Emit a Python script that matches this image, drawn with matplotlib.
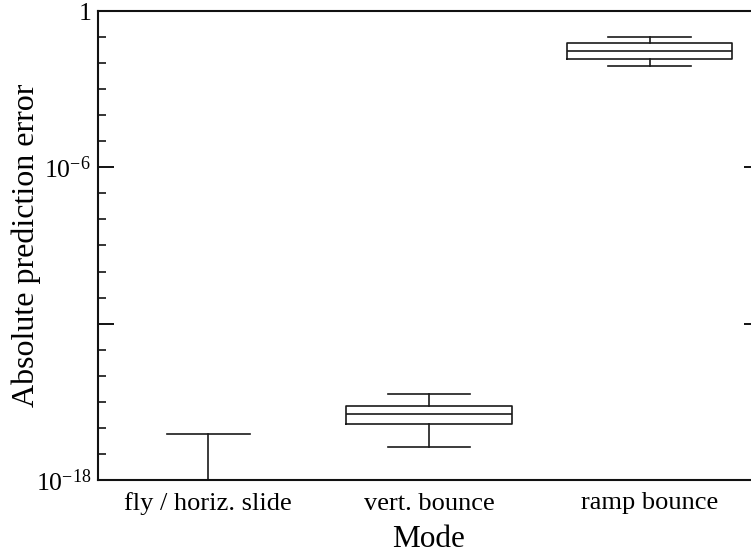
import matplotlib
matplotlib.use("Agg")
import matplotlib.pyplot as plt
from matplotlib.ticker import FixedLocator, FixedFormatter, LogLocator, NullFormatter

plt.rcParams["font.family"] = ["Liberation Serif", "DejaVu Serif"]
plt.rcParams["mathtext.fontset"] = "custom"
plt.rcParams["mathtext.rm"] = "Liberation Serif"
plt.rcParams["mathtext.it"] = "Liberation Serif:italic"

# Box statistics per mode (absolute prediction error)
modes = ["fly / horiz. slide", "vert. bounce", "ramp bounce"]
whisker_low = [1e-20, 10 ** -16.72, 10 ** -2.10]
quartile_1 = [1e-20, 10 ** -15.84, 10 ** -1.83]
medians = [1e-20, 10 ** -15.47, 10 ** -1.55]
quartile_3 = [1e-20, 10 ** -15.16, 10 ** -1.24]
whisker_high = [10 ** -16.23, 10 ** -14.69, 10 ** -1.00]

ytick_values = [1e0, 1e-6, 1e-12, 1e-18]
ytick_labels = ["1", r"$10^{-6}$", "", r"$10^{-18}$"]

stats = [
    dict(label=m, whislo=lo, q1=a, med=md, q3=b, whishi=hi, fliers=[])
    for m, lo, a, md, b, hi in zip(modes, whisker_low, quartile_1, medians,
                                   quartile_3, whisker_high)
]

fig = plt.figure(figsize=(7.51, 5.56), dpi=100)
ax = fig.add_axes([98 / 751, 1 - 480 / 556, (760 - 98) / 751, (480 - 11) / 556])

line_col = "#1a1a1a"
ax.bxp(
    stats,
    positions=[1, 2, 3],
    widths=0.75,
    showfliers=False,
    boxprops=dict(color=line_col, linewidth=1.2),
    medianprops=dict(color=line_col, linewidth=1.2),
    whiskerprops=dict(color=line_col, linewidth=1.2),
    capprops=dict(color=line_col, linewidth=1.2),
)

ax.set_yscale("log")
ax.set_ylim(1e-18, 1)
ax.set_xlim(0.5, 3.5)

ax.yaxis.set_major_locator(FixedLocator(ytick_values))
ax.yaxis.set_major_formatter(FixedFormatter(ytick_labels))
ax.yaxis.set_minor_locator(LogLocator(base=10, subs=[1.0], numticks=40))
ax.yaxis.set_minor_formatter(NullFormatter())
ax.tick_params(axis="y", which="major", direction="in", length=11.5, width=1.3,
               labelsize=18.5, pad=5, left=True, right=True)
ax.tick_params(axis="y", which="minor", direction="in", length=6, width=1.1,
               left=True, right=False)
ax.tick_params(axis="x", which="both", length=0, labelsize=19, pad=9)

ax.set_xticks([1, 2, 3])
ax.set_xticklabels(modes)

for side in ax.spines.values():
    side.set_linewidth(1.5)
    side.set_color("#111111")

ax.set_xlabel("Mode", fontsize=22.5, labelpad=6.5)
ax.set_ylabel("Absolute prediction error", fontsize=23, labelpad=-4)

fig.savefig("out.png", dpi=100)
